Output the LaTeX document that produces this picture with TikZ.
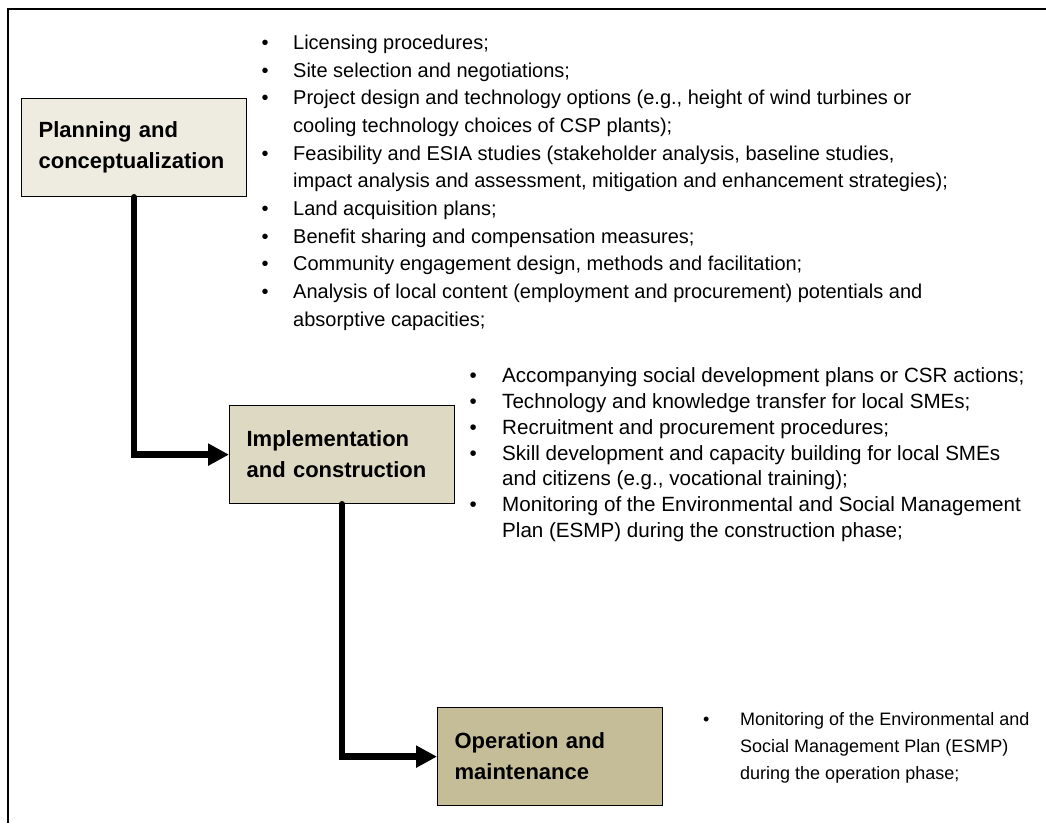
\documentclass[tikz,border=0pt]{standalone}
\usepackage{fontspec}
\setmainfont{Liberation Sans}
\usetikzlibrary{arrows.meta}
\definecolor{boxA}{HTML}{EEECE1}
\definecolor{boxB}{HTML}{DDD9C3}
\definecolor{boxC}{HTML}{C4BD97}
\newcommand\mybul[1]{\makebox[#1][l]{•}}
\begin{document}
\begin{tikzpicture}[x=1pt,y=-1pt,
  phase/.style={draw=black, line width=1.2pt, minimum width=225pt, minimum height=98pt,
    text width=191pt, align=left, inner sep=0pt, anchor=north west,
    font=\fontsize{22}{31}\selectfont\bfseries},
  flow/.style={line width=6.5pt, line cap=round, line join=miter,
    -{Triangle[length=21pt,width=21pt]}},
  blist/.style={anchor=base west, inner sep=0pt}
]
\useasboundingbox (0,0) rectangle (1046,823);
\draw[line width=2pt] (1046,9) -- (8,9) -- (8,823);

\node[phase, fill=boxA] (p1) at (21,98) {Planning and\\conceptualization};
\node[phase, fill=boxB] (p2) at (229,405) {Implementation\\and construction};
\node[phase, fill=boxC] (p3) at (437,707) {Operation and\\maintenance};

\draw[flow] (p1.south) |- (p2.west);
\draw[flow] (p2.south) |- (p3.west);

\node[blist, font=\fontsize{20}{27.7}\selectfont] (l1) at (261.5,49.3) {%
\begin{tabular}[t]{@{}l@{}l@{}}
\mybul{31.5pt} & Licensing procedures;\\
\mybul{31.5pt} & Site selection and negotiations;\\
\mybul{31.5pt} & Project design and technology options (e.g., height of wind turbines or\\
 & cooling technology choices of CSP plants);\\
\mybul{31.5pt} & Feasibility and ESIA studies (stakeholder analysis, baseline studies,\\
 & impact analysis and assessment, mitigation and enhancement strategies);\\
\mybul{31.5pt} & Land acquisition plans;\\
\mybul{31.5pt} & Benefit sharing and compensation measures;\\
\mybul{31.5pt} & Community engagement design, methods and facilitation;\\
\mybul{31.5pt} & Analysis of local content (employment and procurement) potentials and\\
 & absorptive capacities;
\end{tabular}};

\node[blist, font=\fontsize{20.6}{25.8}\selectfont] (l2) at (469.5,382.7) {%
\begin{tabular}[t]{@{}l@{}l@{}}
\mybul{32.5pt} & Accompanying social development plans or CSR actions;\\
\mybul{32.5pt} & Technology and knowledge transfer for local SMEs;\\
\mybul{32.5pt} & Recruitment and procurement procedures;\\
\mybul{32.5pt} & Skill development and capacity building for local SMEs\\
 & and citizens (e.g., vocational training);\\
\mybul{32.5pt} & Monitoring of the Environmental and Social Management\\
 & Plan (ESMP) during the construction phase;
\end{tabular}};

\node[blist, font=\fontsize{18}{27}\selectfont] (l3) at (703,725) {%
\begin{tabular}[t]{@{}l@{}l@{}}
\mybul{37pt} & Monitoring of the Environmental and\\
 & Social Management Plan (ESMP)\\
 & during the operation phase;
\end{tabular}};
\end{tikzpicture}
\end{document}
